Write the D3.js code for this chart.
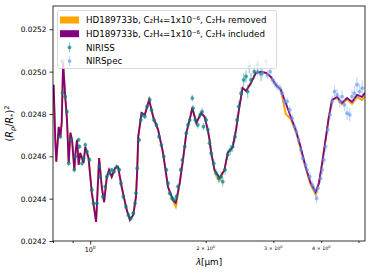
<!DOCTYPE html>
<html>
<head>
<meta charset="utf-8">
<style>
  body { margin: 0; background: #fff; }
  svg text { font-family: "DejaVu Sans", sans-serif; fill: #000; }
  .axis path { stroke: none; }
  .axis line { stroke: #000; stroke-width: 0.8; }
</style>
</head>
<body>
<script src="https://cdn.jsdelivr.net/npm/d3@7"></script>
<script>
  // model spectra (wavelength in micron, (Rp/R*)^2)
  var modelWl = [0.803, 0.811, 0.816, 0.828, 0.836, 0.843, 0.850, 0.861, 0.870, 0.879, 0.888, 0.897, 0.909, 0.916,
    0.924, 0.933, 0.942, 0.961, 0.971, 0.990, 1.010, 1.036, 1.055, 1.072, 1.087, 1.105, 1.120, 1.138, 1.161,
    1.182, 1.208, 1.245, 1.269, 1.295, 1.316, 1.326, 1.334, 1.361, 1.388, 1.424, 1.459, 1.503, 1.548, 1.595,
    1.644, 1.671, 1.711, 1.745, 1.780, 1.816, 1.845, 1.890, 1.947, 1.986, 2.025, 2.046, 2.067, 2.108, 2.172,
    2.238, 2.282, 2.351, 2.399, 2.447, 2.496, 2.547, 2.624, 2.703, 2.786, 2.870, 2.956, 3.046, 3.138, 3.233,
    3.331, 3.432, 3.535, 3.642, 3.753, 3.866, 3.944, 4.022, 4.104, 4.186, 4.269, 4.399, 4.532, 4.670, 4.810,
    4.956, 5.105, 5.200];
  var includedVal = [0.024938, 0.024678, 0.024575, 0.024739, 0.024692, 0.024760, 0.025042, 0.024881, 0.024772,
    0.024569, 0.024711, 0.024678, 0.024536, 0.024620, 0.024678, 0.024560, 0.024616, 0.024569, 0.024644,
    0.024592, 0.024427, 0.024290, 0.024592, 0.024455, 0.024384, 0.024503, 0.024536, 0.024503, 0.024545,
    0.024550, 0.024455, 0.024347, 0.024299, 0.024323, 0.024408, 0.024536, 0.024692, 0.024805, 0.024796,
    0.024867, 0.024786, 0.024725, 0.024616, 0.024455, 0.024394, 0.024380, 0.024474, 0.024583, 0.024711,
    0.024772, 0.024829, 0.024758, 0.024805, 0.024786, 0.024725, 0.024678, 0.024616, 0.024536, 0.024498,
    0.024536, 0.024616, 0.024644, 0.024725, 0.024834, 0.024923, 0.024909, 0.024947, 0.024994, 0.024999,
    0.024994, 0.024975, 0.024938, 0.024914, 0.024852, 0.024786, 0.024725, 0.024644, 0.024550, 0.024474,
    0.024432, 0.024474, 0.024569, 0.024678, 0.024786, 0.024867, 0.024881, 0.024852, 0.024876, 0.024857,
    0.024890, 0.024881, 0.024900];
  var removedVal = [0.024938, 0.024678, 0.024575, 0.024739, 0.024692, 0.024760, 0.025042, 0.024881, 0.024772,
    0.024569, 0.024711, 0.024678, 0.024536, 0.024620, 0.024678, 0.024560, 0.024616, 0.024569, 0.024644,
    0.024592, 0.024427, 0.024290, 0.024592, 0.024455, 0.024384, 0.024503, 0.024536, 0.024503, 0.024545,
    0.024550, 0.024455, 0.024347, 0.024299, 0.024323, 0.024408, 0.024536, 0.024692, 0.024805, 0.024796,
    0.024867, 0.024786, 0.024725, 0.024616, 0.024455, 0.024388, 0.024362, 0.024474, 0.024583, 0.024711,
    0.024772, 0.024829, 0.024758, 0.024805, 0.024786, 0.024725, 0.024678, 0.024616, 0.024532, 0.024486,
    0.024536, 0.024616, 0.024644, 0.024725, 0.024834, 0.024923, 0.024909, 0.024947, 0.024994, 0.024999,
    0.024994, 0.024975, 0.024938, 0.024914, 0.024800, 0.024776, 0.024720, 0.024636, 0.024545, 0.024466,
    0.024420, 0.024470, 0.024569, 0.024678, 0.024786, 0.024864, 0.024876, 0.024846, 0.024870, 0.024848,
    0.024880, 0.024866, 0.024886];

  // NIRISS observations
  var nirissWl = [0.836, 0.845, 0.847, 0.861, 0.870, 0.879, 0.891, 0.909, 0.915, 0.933, 0.938, 0.952, 0.961,
    0.971, 0.981, 0.996, 1.010, 1.020, 1.041, 1.057, 1.061, 1.079, 1.094, 1.105, 1.122, 1.138, 1.154, 1.172,
    1.191, 1.203, 1.220, 1.239, 1.257, 1.275, 1.295, 1.308, 1.316, 1.326, 1.342, 1.354, 1.370, 1.388, 1.407,
    1.430, 1.445, 1.465, 1.488, 1.511, 1.533, 1.555, 1.580, 1.595, 1.611, 1.634, 1.653, 1.677, 1.693, 1.720,
    1.738, 1.763, 1.780, 1.797, 1.816, 1.845, 1.852, 1.878, 1.907, 1.934, 1.957, 1.973, 2.006, 2.025, 2.046,
    2.067, 2.099, 2.128, 2.159, 2.193, 2.215, 2.246, 2.282, 2.318, 2.351, 2.384, 2.413, 2.436, 2.472, 2.511,
    2.547, 2.572, 2.597, 2.624, 2.676, 2.730, 2.786];
  var nirissVal = [0.024693, 0.025048, 0.024901, 0.024882, 0.024811, 0.024567, 0.024678, 0.024536, 0.024599,
    0.024678, 0.024646, 0.024567, 0.024591, 0.024654, 0.024622, 0.024583, 0.024441, 0.024378, 0.024378,
    0.024551, 0.024504, 0.024409, 0.024457, 0.024504, 0.024520, 0.024536, 0.024528, 0.024551, 0.024536,
    0.024473, 0.024409, 0.024362, 0.024323, 0.024307, 0.024331, 0.024378, 0.024426, 0.024544, 0.024678,
    0.024772, 0.024796, 0.024788, 0.024835, 0.024867, 0.024819, 0.024772, 0.024748, 0.024693, 0.024654,
    0.024599, 0.024536, 0.024473, 0.024426, 0.024402, 0.024394, 0.024409, 0.024457, 0.024536, 0.024583,
    0.024646, 0.024709, 0.024748, 0.024772, 0.024875, 0.024827, 0.024772, 0.024748, 0.024796, 0.024811,
    0.024740, 0.024772, 0.024725, 0.024662, 0.024615, 0.024567, 0.024520, 0.024496, 0.024504, 0.024480,
    0.024536, 0.024607, 0.024630, 0.024646, 0.024693, 0.024772, 0.024835, 0.024898, 0.024961, 0.024977,
    0.024906, 0.025024, 0.024961, 0.025000, 0.025032, 0.024990];
  var nirissErr = [1.2e-5, 1.4e-5, 1.2e-5, 1.2e-5, 1.2e-5, 1.2e-5, 1.2e-5, 1.2e-5, 1.2e-5, 1.2e-5, 1.2e-5,
    1.2e-5, 1.2e-5, 1.2e-5, 1.2e-5, 1.2e-5, 1.1e-5, 1.1e-5, 1.1e-5, 1.1e-5, 1.1e-5, 1.1e-5, 1.1e-5, 1.1e-5,
    1.1e-5, 1.1e-5, 1.1e-5, 1.1e-5, 1.1e-5, 1.1e-5, 1.1e-5, 1.1e-5, 1.1e-5, 1.1e-5, 1.1e-5, 1.1e-5, 1.1e-5,
    1.1e-5, 1.1e-5, 1.2e-5, 1.2e-5, 1.2e-5, 1.2e-5, 1.2e-5, 1.2e-5, 1.2e-5, 1.2e-5, 1.2e-5, 1.2e-5, 1.2e-5,
    1.2e-5, 1.2e-5, 1.2e-5, 1.3e-5, 1.3e-5, 1.3e-5, 1.3e-5, 1.3e-5, 1.3e-5, 1.3e-5, 1.4e-5, 1.4e-5, 1.4e-5,
    1.6e-5, 1.6e-5, 1.6e-5, 1.7e-5, 1.7e-5, 1.8e-5, 1.8e-5, 1.8e-5, 1.9e-5, 1.9e-5, 2.0e-5, 2.0e-5, 2.1e-5,
    2.1e-5, 2.2e-5, 2.2e-5, 2.3e-5, 2.3e-5, 2.4e-5, 2.4e-5, 2.5e-5, 2.6e-5, 2.7e-5, 2.8e-5, 3.0e-5, 3.0e-5,
    3.2e-5, 3.2e-5, 3.3e-5, 3.4e-5, 3.5e-5, 3.5e-5];

  // NIRSpec observations
  var nirspecWl = [2.730, 2.810, 2.870, 2.897, 2.944, 2.983, 3.025, 3.072, 3.121, 3.164, 3.208, 3.259, 3.311,
    3.357, 3.405, 3.445, 3.492, 3.540, 3.582, 3.642, 3.673, 3.735, 3.788, 3.841, 3.889, 3.919, 3.985, 4.022,
    4.062, 4.104, 4.161, 4.213, 4.269, 4.331, 4.399, 4.470, 4.532, 4.597, 4.670, 4.745, 4.810, 4.878, 4.956,
    5.034, 5.114];
  var nirspecVal = [0.025000, 0.024993, 0.025048, 0.024985, 0.025000, 0.024961, 0.024946, 0.024930, 0.024922,
    0.024898, 0.024859, 0.024859, 0.024819, 0.024780, 0.024740, 0.024717, 0.024678, 0.024630, 0.024591,
    0.024559, 0.024536, 0.024504, 0.024465, 0.024441, 0.024402, 0.024449, 0.024496, 0.024536, 0.024583,
    0.024646, 0.024725, 0.024796, 0.024859, 0.024906, 0.024890, 0.024859, 0.024882, 0.024843, 0.024804,
    0.024796, 0.024882, 0.024898, 0.024938, 0.024906, 0.024922];
  var nirspecErr = [2.2e-5, 2.2e-5, 2.4e-5, 2.2e-5, 2.2e-5, 2.0e-5, 2.0e-5, 2.0e-5, 2.0e-5, 2.0e-5, 2.0e-5,
    2.0e-5, 2.0e-5, 2.0e-5, 2.0e-5, 2.0e-5, 2.0e-5, 2.0e-5, 2.0e-5, 2.0e-5, 2.1e-5, 2.1e-5, 2.1e-5, 2.2e-5,
    2.3e-5, 2.3e-5, 2.3e-5, 2.3e-5, 2.3e-5, 2.4e-5, 2.5e-5, 2.5e-5, 2.6e-5, 2.7e-5, 2.7e-5, 2.8e-5, 2.9e-5,
    3.0e-5, 3.1e-5, 3.2e-5, 3.3e-5, 3.4e-5, 3.5e-5, 3.6e-5, 3.7e-5];

  var yTicks = [0.0242, 0.0244, 0.0246, 0.0248, 0.0250, 0.0252];
  var xMajor = [1];
  var xMinor = [0.8, 0.9, 2, 3, 4, 5];
  var xMinorLabels = [2, 3, 4];

  var W = 373, H = 274;
  var margin = { top: 6, right: 8, bottom: 33, left: 53 };

  var svg = d3.select('body').append('svg')
    .attr('width', W)
    .attr('height', H);

  var x = d3.scaleLog().domain([0.8, 5.2]).range([margin.left, W - margin.right]);
  var y = d3.scaleLinear().domain([0.0242, 0.02531]).range([H - margin.bottom, margin.top]);

  svg.append('clipPath').attr('id', 'clip')
    .append('rect')
    .attr('x', margin.left).attr('y', margin.top)
    .attr('width', x.range()[1] - margin.left)
    .attr('height', y.range()[0] - margin.top);

  var plot = svg.append('g').attr('clip-path', 'url(#clip)');

  function series(wl, val, err) {
    return wl.map(function(w, i) {
      return { x: w, y: val[i], e: err ? err[i] : 0 };
    });
  }

  var line = d3.line()
    .x(function(d) { return x(d.x); })
    .y(function(d) { return y(d.y); });

  plot.append('path')
    .datum(series(modelWl, removedVal))
    .attr('d', line)
    .attr('fill', 'none')
    .attr('stroke', '#ffa500')
    .attr('stroke-width', 2);

  plot.append('path')
    .datum(series(modelWl, includedVal))
    .attr('d', line)
    .attr('fill', 'none')
    .attr('stroke', '#800080')
    .attr('stroke-width', 1.8);

  function drawData(data, color, alpha) {
    var g = plot.append('g');
    g.selectAll('line')
      .data(data)
      .enter()
      .append('line')
      .attr('x1', function(d) { return x(d.x); })
      .attr('x2', function(d) { return x(d.x); })
      .attr('y1', function(d) { return y(d.y - d.e); })
      .attr('y2', function(d) { return y(d.y + d.e); })
      .attr('stroke', color)
      .attr('stroke-opacity', alpha * 0.6)
      .attr('stroke-width', 1.2);
    g.selectAll('circle')
      .data(data)
      .enter()
      .append('circle')
      .attr('cx', function(d) { return x(d.x); })
      .attr('cy', function(d) { return y(d.y); })
      .attr('r', 1.9)
      .attr('fill', color)
      .attr('fill-opacity', alpha);
  }

  drawData(series(nirissWl, nirissVal, nirissErr), '#008080', 0.7);
  drawData(series(nirspecWl, nirspecVal, nirspecErr), '#6495ed', 0.65);

  // axes
  var yAxis = svg.append('g')
    .attr('class', 'axis')
    .attr('transform', 'translate(' + margin.left + ',0)')
    .call(d3.axisLeft(y).tickValues(yTicks).tickSize(3.5).tickPadding(3)
      .tickFormat(d3.format('.4f')));
  yAxis.selectAll('text')
    .style('font-size', '7.4px')
    .attr('fill', '#000');

  svg.append('g')
    .attr('class', 'axis')
    .attr('transform', 'translate(0,' + y.range()[0] + ')')
    .call(d3.axisBottom(x).tickValues(xMajor).tickSize(3.5).tickFormat(''));
  svg.append('g')
    .attr('class', 'axis')
    .attr('transform', 'translate(0,' + y.range()[0] + ')')
    .call(d3.axisBottom(x).tickValues(xMinor).tickSize(2).tickFormat(''));

  var major = svg.append('text')
    .attr('x', x(1))
    .attr('y', 252)
    .attr('text-anchor', 'middle')
    .style('font-size', '6.4px')
    .text('10');
  major.append('tspan').attr('dy', -2.6).style('font-size', '4.5px').text('0');

  xMinorLabels.forEach(function(v) {
    var t = svg.append('text')
      .attr('x', x(v))
      .attr('y', 249.5)
      .attr('text-anchor', 'middle')
      .style('font-size', '4.8px')
      .text(v + ' \u00d7 10');
    t.append('tspan').attr('dy', -2).style('font-size', '3.4px').text('0');
  });

  // frame
  svg.append('rect')
    .attr('x', margin.left)
    .attr('y', margin.top)
    .attr('width', x.range()[1] - margin.left)
    .attr('height', y.range()[0] - margin.top)
    .attr('fill', 'none')
    .attr('stroke', '#000')
    .attr('stroke-width', 0.8);

  // axis labels
  var xl = svg.append('text')
    .attr('x', (margin.left + x.range()[1]) / 2)
    .attr('y', 265)
    .attr('text-anchor', 'middle')
    .style('font-size', '8.8px');
  xl.append('tspan').style('font-style', 'italic').text('\u03bb');
  xl.append('tspan').text('[\u03bcm]');

  var yl = svg.append('text')
    .attr('transform', 'translate(13,' + ((margin.top + y.range()[0]) / 2) + ') rotate(-90)')
    .attr('text-anchor', 'middle')
    .style('font-size', '9.6px');
  yl.append('tspan').text('(');
  yl.append('tspan').style('font-style', 'italic').text('R');
  yl.append('tspan').style('font-style', 'italic').style('font-size', '6.6px').attr('dy', 2).text('p');
  yl.append('tspan').attr('dy', -2).text('/');
  yl.append('tspan').style('font-style', 'italic').text('R');
  yl.append('tspan').style('font-size', '6.6px').attr('dy', 2).text('*');
  yl.append('tspan').attr('dy', -2).text(')');
  yl.append('tspan').style('font-size', '6.6px').attr('dy', -3.8).text('2');

  // legend
  var legend = svg.append('g');
  legend.append('rect')
    .attr('x', 57.5).attr('y', 10.5)
    .attr('width', 219).attr('height', 58)
    .attr('rx', 2)
    .attr('fill', '#fff')
    .attr('fill-opacity', 0.8)
    .attr('stroke', '#d0d0d0')
    .attr('stroke-width', 0.8);

  var legendItems = [
    { type: 'patch', color: '#ffa500', label: 'HD189733b, C\u2082H\u2084=1x10\u207b\u2076, C\u2082H\u2084 removed' },
    { type: 'patch', color: '#800080', label: 'HD189733b, C\u2082H\u2084=1x10\u207b\u2076, C\u2082H\u2084 included' },
    { type: 'err', color: '#008080', alpha: 0.7, label: 'NIRISS' },
    { type: 'err', color: '#6495ed', alpha: 0.65, label: 'NIRSpec' }
  ];

  var li = legend.selectAll('g.item')
    .data(legendItems)
    .enter()
    .append('g')
    .attr('class', 'item')
    .attr('transform', function(d, i) { return 'translate(0,' + (20 + i * 13.7) + ')'; });

  li.filter(function(d) { return d.type === 'patch'; })
    .append('rect')
    .attr('x', 60).attr('y', -3.5)
    .attr('width', 19).attr('height', 7)
    .attr('fill', function(d) { return d.color; });

  var errItems = li.filter(function(d) { return d.type === 'err'; });
  errItems.append('line')
    .attr('x1', 69.5).attr('x2', 69.5)
    .attr('y1', -5).attr('y2', 5)
    .attr('stroke', function(d) { return d.color; })
    .attr('stroke-opacity', function(d) { return d.alpha * 0.6; })
    .attr('stroke-width', 1.2);
  errItems.append('circle')
    .attr('cx', 69.5).attr('cy', 0)
    .attr('r', 1.9)
    .attr('fill', function(d) { return d.color; })
    .attr('fill-opacity', function(d) { return d.alpha; });

  li.append('text')
    .attr('x', 86)
    .attr('y', 3.2)
    .style('font-size', '8.7px')
    .text(function(d) { return d.label; });
</script>
</body>
</html>
